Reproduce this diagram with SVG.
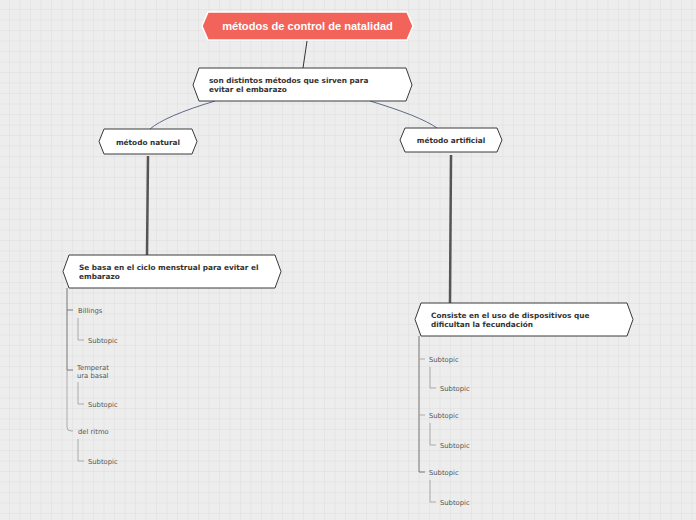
<svg xmlns="http://www.w3.org/2000/svg" width="696" height="520" viewBox="0 0 696 520">
<defs>
<pattern id="grid" width="10.5" height="10.5" patternUnits="userSpaceOnUse" x="-0.5" y="-0.5">
<path d="M10.5 0V10.5M0 10.5H10.5" stroke="#dddddd" stroke-width="1" fill="none"/>
</pattern>
<style>
.hex{fill:#ffffff;stroke:#3a3a3a;stroke-width:1}
.root{fill:#f2635a;stroke:#ffffff;stroke-width:1.5}
.t{font-family:"DejaVu Sans",sans-serif;font-weight:bold;font-size:7.35px;fill:#333}
.rt{font-family:"Liberation Sans",Arial,sans-serif;font-weight:bold;font-size:11.1px;fill:#fff}
.s{font-family:"DejaVu Sans",sans-serif;font-size:6.8px;fill:#555}
.c{fill:none;stroke:#333;stroke-width:1}
.cb{fill:none;stroke:#4d5a78;stroke-width:0.9}
.thick{fill:none;stroke:#555;stroke-width:2.5}
.tr{fill:none;stroke:#777;stroke-width:1}
.tr2{fill:none;stroke:#aaa;stroke-width:1}
</style>
</defs>
<rect width="696" height="520" fill="#ededed"/>
<rect width="696" height="520" fill="url(#grid)"/>
<g id="connectors">
<path class="c" d="M307 41L303 68"/>
<path class="cb" d="M215 101Q165 116 150 129"/>
<path class="cb" d="M370 101Q420 116 437 128"/>
<path class="thick" d="M148 156L147 255"/>
<path class="thick" d="M451 155L450 303"/>
<path class="tr" d="M67 288V370"/>
<path class="tr2" d="M67 370V427Q67 431 71 431H73"/>
<path class="tr" d="M67 310H73"/>
<path class="tr" d="M67 370H73"/>
<path class="tr2" d="M78 318V340H84"/>
<path class="tr2" d="M78 382V404H84"/>
<path class="tr2" d="M78 439V461H84"/>
<path class="tr" d="M419 336V472H425"/>
<path class="tr2" d="M419 359H425"/>
<path class="tr2" d="M419 415H425"/>
<path class="tr2" d="M430 367V388H436"/>
<path class="tr2" d="M430 423V445H436"/>
<path class="tr2" d="M430 480V502H436"/>
</g>
<g id="root">
<polygon class="root" points="202,26 208,12 407,12 413,26 407,40 208,40"/>
<text class="rt" x="307.5" y="30" text-anchor="middle">métodos de control de natalidad</text>
</g>
<g id="n-definicion">
<polygon class="hex" points="193,85 199,68 406,68 412,85 406,101 199,101"/>
<text class="t" x="209" y="82.5">son distintos métodos que sirven para</text>
<text class="t" x="209" y="91.5">evitar el embarazo</text>
</g>
<g id="n-natural">
<polygon class="hex" points="99,141.5 104,129 192,129 197,141.5 192,154 104,154"/>
<text class="t" x="148" y="144.5" text-anchor="middle">método natural</text>
</g>
<g id="n-artificial">
<polygon class="hex" points="400,140 405,128 497,128 502,140 497,152 405,152"/>
<text class="t" x="451" y="143" text-anchor="middle">método artificial</text>
</g>
<g id="n-basa">
<polygon class="hex" points="63,271.5 69,255 275,255 281,271.5 275,288 69,288"/>
<text class="t" x="79" y="269.5">Se basa en el ciclo menstrual para evitar el</text>
<text class="t" x="79" y="278.5">embarazo</text>
</g>
<g id="n-consiste">
<polygon class="hex" points="415,319.5 421,303 627,303 633,319.5 627,336 421,336"/>
<text class="t" x="431" y="317.5">Consiste en el uso de dispositivos que</text>
<text class="t" x="431" y="326.5">dificultan la fecundación</text>
</g>
<g id="l-billings"><text class="s" x="78" y="312.5">Billings</text></g>
<g id="l-billings-sub"><text class="s" x="88" y="342.5">Subtopic</text></g>
<g id="l-temp"><text class="s" x="77" y="369.5">Temperat</text><text class="s" x="77" y="377.5">ura basal</text></g>
<g id="l-temp-sub"><text class="s" x="88" y="406.5">Subtopic</text></g>
<g id="l-ritmo"><text class="s" x="78" y="433.5">del ritmo</text></g>
<g id="l-ritmo-sub"><text class="s" x="88" y="463.5">Subtopic</text></g>
<g id="r-1"><text class="s" x="429" y="361.5">Subtopic</text></g>
<g id="r-1-sub"><text class="s" x="440" y="390.5">Subtopic</text></g>
<g id="r-2"><text class="s" x="429" y="417.5">Subtopic</text></g>
<g id="r-2-sub"><text class="s" x="440" y="447.5">Subtopic</text></g>
<g id="r-3"><text class="s" x="429" y="474.5">Subtopic</text></g>
<g id="r-3-sub"><text class="s" x="440" y="504.5">Subtopic</text></g>
</svg>
